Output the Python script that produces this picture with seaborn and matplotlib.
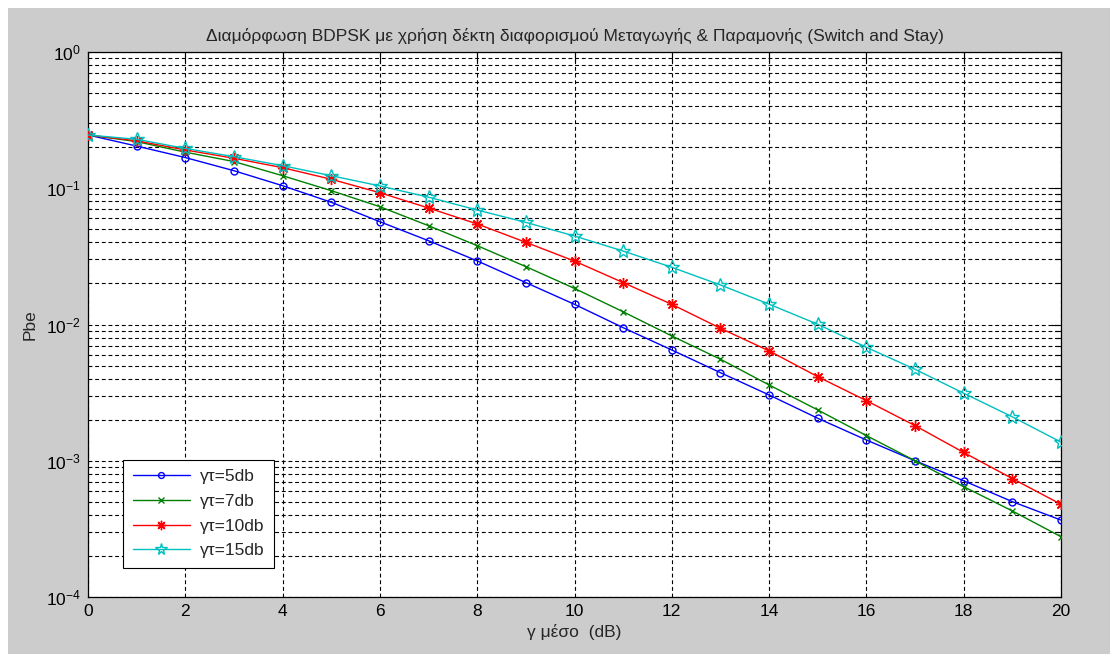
import numpy as np
import pandas as pd
import matplotlib
matplotlib.use("Agg")
import matplotlib.pyplot as plt
from matplotlib.patches import Rectangle
from matplotlib.ticker import LogLocator, FixedLocator, NullFormatter
import seaborn as sns

# ---- data ----
gamma_db = list(range(0, 21))
labels = ["γτ=5db", "γτ=7db", "γτ=10db", "γτ=15db"]
pbe_5 = [0.246, 0.204, 0.168, 0.1345, 0.1044, 0.0789, 0.0568, 0.0412, 0.0293, 0.0203,
         0.01406, 0.00948, 0.0065, 0.00443, 0.00304, 0.00205, 0.00142, 0.00100,
         0.000713, 0.000501, 0.000367]
pbe_7 = [0.246, 0.220, 0.184, 0.157, 0.1236, 0.096, 0.0732, 0.0531, 0.0379, 0.0266,
         0.0184, 0.0124, 0.00824, 0.00556, 0.0036, 0.00236, 0.00153, 0.00100,
         0.000645, 0.000428, 0.000277]
pbe_10 = [0.246, 0.223, 0.191, 0.166, 0.1415, 0.1164, 0.0927, 0.0716, 0.0547, 0.0401,
          0.0292, 0.0203, 0.01406, 0.00938, 0.0064, 0.00414, 0.00276, 0.00181,
          0.00115, 0.00074, 0.000479]
pbe_15 = [0.246, 0.2287, 0.196, 0.1705, 0.1464, 0.1236, 0.104, 0.086, 0.0692, 0.0562,
          0.0446, 0.0346, 0.0263, 0.0195, 0.0141, 0.01004, 0.0068, 0.00469,
          0.00313, 0.0021, 0.00137]
series = [pbe_5, pbe_7, pbe_10, pbe_15]
colors = ["#0000ff", "#008000", "#ff0000", "#00bfbf"]
markers = ["o", "x", (8, 2, 0), "*"]
msizes = [5, 5, 8, 10]

title = "Διαμόρφωση BDPSK με χρήση δέκτη διαφορισμού Μεταγωγής & Παραμονής (Switch and Stay)"
xlabel = "γ μέσο  (dB)"
ylabel = "Pbe"
xticks = list(range(0, 21, 2))

FS = 12.5

sns.set_style("white")
plt.rcParams['font.family'] = ['Liberation Sans', 'DejaVu Sans']
plt.rcParams['mathtext.fontset'] = 'custom'
plt.rcParams['mathtext.rm'] = 'Liberation Sans'

W, H = 1110, 654
fig = plt.figure(figsize=(W / 100, H / 100), dpi=100, facecolor="white")
fig.add_artist(Rectangle((8 / W, 0), 1 - 8 / W, 1 - 8 / H, transform=fig.transFigure,
                         facecolor="#cccccc", edgecolor="none", zorder=-10))
ax = fig.add_axes([88 / W, 1 - 597 / H, (1061 - 88) / W, (597 - 52) / H])
ax.set_facecolor("white")

for vals, lab, c, m, ms in zip(series, labels, colors, markers, msizes):
    df = pd.DataFrame({"x": gamma_db, "y": vals})
    mfc = "none" if m in ("o", "*") else c
    sns.lineplot(data=df, x="x", y="y", ax=ax, color=c, marker=m, markersize=ms,
                 markerfacecolor=mfc, markeredgecolor=c, markeredgewidth=1.0,
                 linewidth=1.0, label=lab, zorder=3)

ax.set_yscale("log")
ax.set_xlim(0, 20)
ax.set_ylim(1e-4, 1)
ax.xaxis.set_major_locator(FixedLocator(xticks))
ax.yaxis.set_major_locator(LogLocator(base=10, numticks=10))
ax.yaxis.set_minor_locator(LogLocator(base=10, subs=np.arange(2, 10), numticks=20))
ax.yaxis.set_minor_formatter(NullFormatter())

dash = (0, (3.5, 2.5))
ax.grid(True, which="major", axis="both", color="black", linestyle=dash, linewidth=0.8)
ax.grid(True, which="minor", axis="y", color="black", linestyle=dash, linewidth=0.8)
ax.set_axisbelow(True)

ax.tick_params(which="both", direction="in", top=True, right=True, colors="black",
               labelsize=FS, pad=5)
ax.tick_params(which="major", length=7, width=0.8)
ax.tick_params(which="minor", length=4, width=0.8)
for s in ax.spines.values():
    s.set_color("black")
    s.set_linewidth(0.9)
    s.set_visible(True)

ax.set_title(title, fontsize=FS, pad=8)
ax.set_xlabel(xlabel, fontsize=FS, labelpad=4)
ax.set_ylabel(ylabel, fontsize=FS, labelpad=6)

leg = ax.legend(loc="lower left", bbox_to_anchor=(35 / (1061 - 88), 29 / (597 - 52)),
                frameon=True, fancybox=False, edgecolor="black", fontsize=FS,
                handlelength=3.3, borderpad=0.55, labelspacing=0.55, handletextpad=0.6,
                borderaxespad=0, markerscale=0.85)
leg.get_frame().set_linewidth(0.8)
leg.get_frame().set_facecolor("white")
leg.get_frame().set_alpha(1)

fig.savefig("out.png", dpi=100, facecolor=fig.get_facecolor())
